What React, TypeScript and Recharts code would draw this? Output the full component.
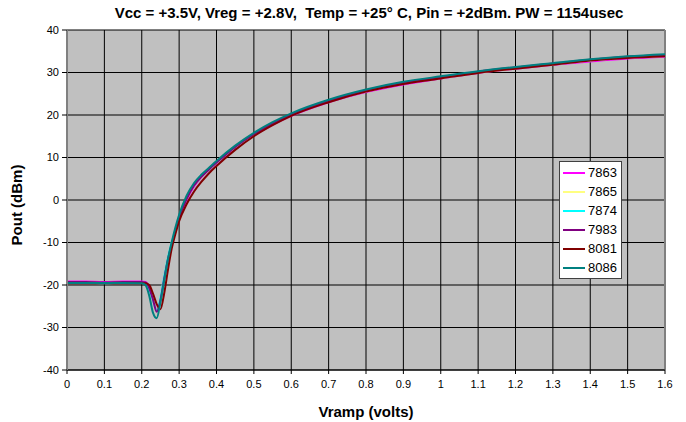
import { LineChart, Line, XAxis, YAxis, CartesianGrid, ReferenceLine, Label } from "recharts";

// Vramp sample points (volts)
const vramp = [0, 0.05, 0.1, 0.15, 0.2, 0.21, 0.22, 0.23, 0.24, 0.25, 0.26, 0.27, 0.28, 0.29, 0.3, 0.32, 0.34, 0.36, 0.38, 0.4, 0.45, 0.5, 0.55, 0.6, 0.7, 0.8, 0.9, 1.0, 1.1, 1.2, 1.3, 1.4, 1.5, 1.6];

// Pout (dBm) per unit
const s7863 = [-19.2, -19.2, -19.3, -19.2, -19.2, -19.3, -20.5, -23, -25.8, -23.5, -18.5, -14, -10.5, -7.5, -4.5, 0, 3.2, 5.3, 7, 8.6, 12.2, 15.2, 17.7, 19.8, 23, 25.4, 27.2, 28.6, 29.9, 30.9, 31.8, 32.6, 33.3, 33.7];
const s7865 = [-19.4, -19.4, -19.5, -19.4, -19.4, -19.5, -20.8, -23.3, -25.9, -23.2, -18.2, -13.7, -10.2, -7.2, -4.2, 0.3, 3.4, 5.4, 7.1, 8.7, 12.4, 15.4, 17.9, 20, 23.2, 25.6, 27.4, 28.7, 30, 31, 31.9, 32.8, 33.5, 33.9];
const s7874 = [-19.5, -19.5, -19.6, -19.5, -19.5, -19.6, -21, -23.5, -26, -23, -18, -13.5, -10, -7, -4, 0.5, 3.5, 5.5, 7.2, 8.8, 12.5, 15.5, 18, 20.1, 23.3, 25.7, 27.5, 28.8, 30.1, 31.1, 32, 32.9, 33.6, 34.1];
const s7983 = [-19.3, -19.3, -19.4, -19.3, -19.3, -19.4, -20.7, -23.4, -26.3, -23.6, -18.6, -14, -10.4, -7.3, -4.3, 0.2, 3.4, 5.5, 7.2, 8.8, 12.5, 15.5, 18, 20.1, 23.3, 25.8, 27.6, 28.9, 30.2, 31.2, 32.1, 33, 33.7, 34.1];
const s8081 = [-19.6, -19.6, -19.6, -19.6, -19.6, -19.6, -20, -22, -24.5, -25.7, -22, -16.5, -11.5, -8, -5, -1, 2, 4.3, 6.3, 8, 11.8, 15, 17.6, 19.8, 23, 25.5, 27.3, 28.6, 29.9, 30.9, 31.8, 32.8, 33.4, 33.8];
const s8086 = [-19.5, -19.5, -19.5, -19.5, -19.6, -20, -22.5, -26.5, -27.8, -24, -19, -14, -10, -6.5, -3.5, 1, 4, 6, 7.6, 9.2, 12.8, 15.8, 18.3, 20.4, 23.6, 26, 27.8, 29.1, 30.3, 31.3, 32.2, 33.1, 33.8, 34.3];

const seriesNames = ["7863", "7865", "7874", "7983", "8081", "8086"];
const seriesValues = [s7863, s7865, s7874, s7983, s8081, s8086];
const seriesColors = ["#ff00ff", "#ffff80", "#00ffff", "#800080", "#800000", "#008080"];

const xTicks = [0, 0.1, 0.2, 0.3, 0.4, 0.5, 0.6, 0.7, 0.8, 0.9, 1, 1.1, 1.2, 1.3, 1.4, 1.5, 1.6];
const yTicks = [-40, -30, -20, -10, 0, 10, 20, 30, 40];

const data = vramp.map((v, i) => {
  const row: Record<string, number> = { v };
  seriesNames.forEach((name, k) => {
    row[name] = seriesValues[k][i];
  });
  return row;
});

const font = "'Liberation Sans', Arial, sans-serif";
const titleStyle = { fontSize: 15, fontWeight: "bold", fill: "#000", fontFamily: font };

export default function App() {
  return (
    <div style={{ position: "absolute", left: 0, top: 0, width: 686, height: 422, background: "#fff", fontFamily: font }}>
      <div
        style={{
          position: "absolute",
          left: 69,
          width: 600,
          top: 4,
          textAlign: "center",
          fontSize: 15,
          fontWeight: "bold",
          whiteSpace: "pre",
        }}
      >
        {"Vcc = +3.5V, Vreg = +2.8V,  Temp = +25° C, Pin = +2dBm. PW = 1154usec"}
      </div>
      <LineChart width={686} height={422} data={data} margin={{ top: 30, right: 21, bottom: 22, left: 0 }}>
        <CartesianGrid stroke="#000" fill="#c0c0c0" fillOpacity={1} />
        <XAxis
          dataKey="v"
          type="number"
          domain={[0, 1.6]}
          ticks={xTicks}
          interval={0}
          height={30}
          tick={{ fill: "#000", fontSize: 11, fontFamily: font }}
          tickLine={{ stroke: "#000" }}
          axisLine={{ stroke: "#000" }}
          tickSize={4}
          tickMargin={6}
        >
          <Label value="Vramp (volts)" position="insideBottom" offset={-17} style={titleStyle} />
        </XAxis>
        <YAxis
          type="number"
          domain={[-40, 40]}
          ticks={yTicks}
          interval={0}
          width={67}
          tick={{ fill: "#000", fontSize: 11, fontFamily: font }}
          tickLine={{ stroke: "#000" }}
          axisLine={{ stroke: "#808080", strokeWidth: 2 }}
          tickSize={5}
          tickMargin={3}
        >
          <Label value="Pout (dBm)" angle={-90} position="insideLeft" offset={17} dy={5} style={{ ...titleStyle, textAnchor: "middle" }} />
        </YAxis>
        <ReferenceLine x={1.6} stroke="#808080" strokeWidth={2} />
        {seriesNames.map((name, k) => (
          <Line
            key={name}
            type="monotone"
            dataKey={name}
            stroke={seriesColors[k]}
            strokeWidth={2}
            dot={false}
            isAnimationActive={false}
          />
        ))}
      </LineChart>
      <div
        style={{
          position: "absolute",
          left: 559,
          top: 161,
          width: 63,
          boxSizing: "border-box",
          padding: "1px 0 1px 3px",
          background: "#fff",
          border: "1px solid #404040",
          fontSize: 13,
          lineHeight: "19px",
        }}
      >
        {seriesNames.map((name, k) => (
          <div key={name} style={{ display: "flex", alignItems: "center" }}>
            <span style={{ display: "inline-block", width: 22, height: 2, background: seriesColors[k], marginRight: 3 }} />
            <span>{name}</span>
          </div>
        ))}
      </div>
    </div>
  );
}
